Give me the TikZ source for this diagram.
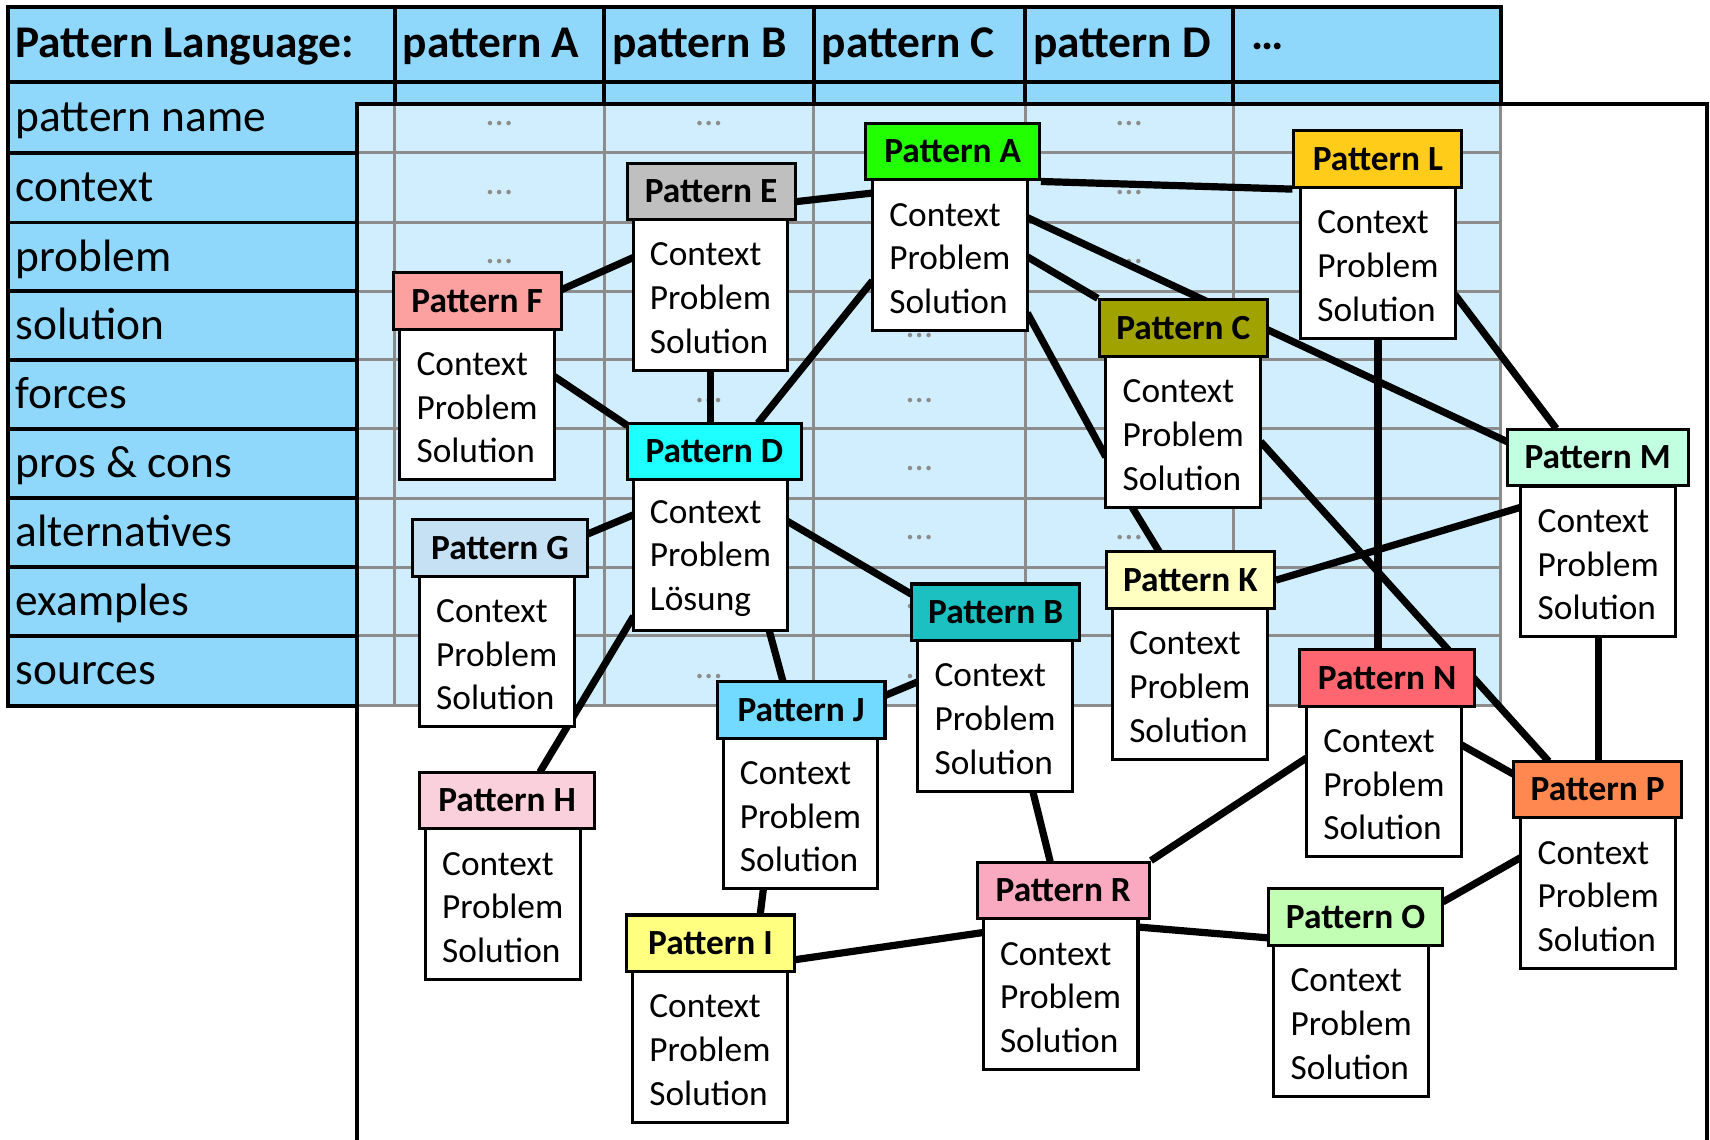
\documentclass[tikz,border=0pt]{standalone}
\usepackage{fontspec}
\setmainfont{Carlito}
\pgfdeclarelayer{bg}
\pgfdeclarelayer{links}
\pgfsetlayers{bg,links,main}
\newcommand{\pfont}{\fontsize{16.2pt}{20pt}\selectfont}
\newcommand{\tfont}{\fontsize{20.8pt}{25pt}\selectfont}
\newcommand{\cps}{Context\\Problem\\Solution}
\definecolor{hblue}{HTML}{8FD8FC}
\definecolor{gblue}{HTML}{D0EEFD}
\definecolor{gridgrey}{HTML}{8C8C8C}
\definecolor{cA}{HTML}{22FF00}
\definecolor{cB}{HTML}{1CC0C0}
\definecolor{cC}{HTML}{A0A200}
\definecolor{cD}{HTML}{1EFFFF}
\definecolor{cE}{HTML}{BFBFBF}
\definecolor{cF}{HTML}{FCA0A0}
\definecolor{cG}{HTML}{C6E0F4}
\definecolor{cH}{HTML}{FAD0DC}
\definecolor{cI}{HTML}{FFFF80}
\definecolor{cJ}{HTML}{72DAFF}
\definecolor{cK}{HTML}{FFFFC2}
\definecolor{cL}{HTML}{FFCC1A}
\definecolor{cM}{HTML}{C2FFE0}
\definecolor{cN}{HTML}{FF6670}
\definecolor{cO}{HTML}{C2FFB4}
\definecolor{cP}{HTML}{FF8850}
\definecolor{cR}{HTML}{F9A9C0}
\tikzset{
  hdr/.style={draw, line width=1.4pt, minimum height=26pt, inner sep=0pt, font=\pfont\bfseries},
  bodybox/.style={draw, fill=white, line width=1.4pt, minimum width=71pt, minimum height=69pt, inner sep=0pt},
  bodytext/.style={inner sep=0pt, align=left, font=\pfont},
  conn/.style={line width=3.3pt},
  tabl/.style={line width=1.8pt, black},
  gridl/.style={line width=1.4pt, gridgrey},
  tabtext/.style={inner sep=0pt, font=\tfont, anchor=base west},
  dotsty/.style={inner sep=0pt, text=gridgrey, font=\fontsize{17pt}{17pt}\selectfont}
}
\newcommand{\patbox}[7]{%
  \node[hdr, fill=#4, minimum width=#3] (#1h) at #2 {#5};
  \node[bodybox] (#1b) at #6 {};
  \node[bodytext] (#1t) at ([yshift=-1.5pt]#1b.center) {#7};
}
\begin{document}
\begin{tikzpicture}[x=0.5pt,y=-0.5pt]
\useasboundingbox (0,0) rectangle (1568,1045);

% ---------- table ----------
\begin{pgfonlayer}{bg}
\fill[hblue] (7,6) rectangle (1376,95);
\fill[hblue] (7,75) rectangle (362,647);
\fill[gblue] (327,95) rectangle (1376,647);
\foreach \y in {140,204,267,330,393,457,520,583,647}
  \draw[gridl] (327,\y) -- (1376,\y);
\foreach \x in {362,554,746,940,1131,1376}
  \draw[gridl] (\x,95) -- (\x,647);
\draw[tabl] (7,6) rectangle (1376,75);
\foreach \x in {362,554,746,940,1131,1376}
  \draw[tabl] (\x,6) -- (\x,95);
\draw[tabl] (7,75) -- (7,647) -- (327,647);
\foreach \y in {140,204,267,330,393,457,520,583}
  \draw[tabl] (7,\y) -- (327,\y);
\draw[tabl] (327,1050) -- (327,95) -- (1565,95) -- (1565,1050);

\node[tabtext, font=\tfont\bfseries] (t0) at (14,53) {Pattern Language:};
\node[tabtext, font=\tfont\bfseries] (tA) at (369,53) {pattern A};
\node[tabtext, font=\tfont\bfseries] (tB) at (561,53) {pattern B};
\node[tabtext, font=\tfont\bfseries] (tC) at (753,53) {pattern C};
\node[tabtext, font=\tfont\bfseries] (tD) at (947,53) {pattern D};
\node[inner sep=0pt, font=\tfont\bfseries] (tX) at (1162,43) {…};

\node[tabtext] (r1) at (14,120.5) {pattern name};
\node[tabtext] (r2) at (14,185) {context};
\node[tabtext] (r3) at (14,248.5) {problem};
\node[tabtext] (r4) at (14,311.5) {solution};
\node[tabtext] (r5) at (14,374.5) {forces};
\node[tabtext] (r6) at (14,438) {pros \& cons};
\node[tabtext] (r7) at (14,501.5) {alternatives};
\node[tabtext] (r8) at (14,564.5) {examples};
\node[tabtext] (r9) at (14,628) {sources};

\foreach \x/\y [count=\i] in {458/113,458/177,458/240,
    650/113,650/367,650/620,
    843/308,843/367,843/430,843/493,843/556,843/620,
    1035.5/113,1035.5/177,1035.5/240,1035.5/493}
  \node[dotsty] (d-\i) at (\x,\y) {…};
\end{pgfonlayer}

% ---------- pattern boxes ----------
\patbox{A}{(873.5,139)}{79.5pt}{cA}{Pattern A}{(871,234)}{\cps}
\patbox{E}{(652,175.5)}{77pt}{cE}{Pattern E}{(651.5,270.5)}{\cps}
\patbox{L}{(1263.5,146)}{77pt}{cL}{Pattern L}{(1263.5,241)}{\cps}
\patbox{F}{(437.5,276)}{77pt}{cF}{Pattern F}{(437.5,371)}{\cps}
\patbox{C}{(1085,301)}{77pt}{cC}{Pattern C}{(1085,396)}{\cps}
\patbox{D}{(655,414)}{80pt}{cD}{Pattern D}{(651.5,509)}{Context\\Problem\\Lösung}
\patbox{M}{(1465,419.5)}{83pt}{cM}{Pattern M}{(1465.5,515)}{\cps}
\patbox{G}{(458.5,502.5)}{80pt}{cG}{Pattern G}{(455.5,597.5)}{\cps}
\patbox{K}{(1091.5,532)}{77pt}{cK}{Pattern K}{(1091,627)}{\cps}
\patbox{B}{(913,561.5)}{77pt}{cB}{Pattern B}{(912.5,656.5)}{\cps}
\patbox{J}{(734.5,651)}{77pt}{cJ}{Pattern J}{(734,746)}{\cps}
\patbox{N}{(1272,621.5)}{80pt}{cN}{Pattern N}{(1269,716.5)}{\cps}
\patbox{H}{(465,734)}{80pt}{cH}{Pattern H}{(461,829)}{\cps}
\patbox{P}{(1465,724)}{77pt}{cP}{Pattern P}{(1465.5,819)}{\cps}
\patbox{R}{(975,816.5)}{79pt}{cR}{Pattern R}{(972.5,911.5)}{\cps}
\patbox{O}{(1243,841)}{80pt}{cO}{Pattern O}{(1239,936)}{\cps}
\patbox{I}{(651.5,865)}{77pt}{cI}{Pattern I}{(651,960)}{\cps}

% ---------- connectors ----------
\begin{pgfonlayer}{links}
\draw[conn] ([shift={(77,9.5)}]Eh.center) -- ([shift={(-71,-57)}]Ab.center);
\draw[conn] (Ah.south east) -- (Lh.south west);
\draw[conn] ([shift={(76.5,-10)}]Fh.center) -- ([shift={(-70.5,-34.5)}]Eb.center);
\draw[conn] ([shift={(70.5,-26)}]Fb.center) -- ([shift={(-80,-24)}]Dh.center);
\draw[conn] (Eb.south) -- (Eb.south |- Dh.north);
\draw[conn] ([shift={(-71,23.5)}]Ab.center) -- ([shift={(40,-26)}]Dh.center);
\draw[conn] ([shift={(71,-34.5)}]Ab.center) -- ([shift={(-83,-14.5)}]Mh.center);
\draw[conn] ([shift={(71,1.5)}]Ab.center) -- (Ch.north west);
\draw[conn] ([shift={(71,53)}]Ab.center) -- ([shift={(-71,23)}]Cb.center);
\draw[conn] ([shift={(-47,69)}]Cb.center) -- ([shift={(-28.5,-26)}]Kh.center);
\draw[conn] ([shift={(70.5,29)}]Lb.center) -- ([shift={(-38,-26.5)}]Mh.center);
\draw[conn] (Lb.south) -- (Lb.south |- Nh.north);
\draw[conn] ([shift={(71,9)}]Cb.center) -- ([shift={(-45,-26)}]Ph.center);
\draw[conn] (Kh.east) -- ([shift={(-70.5,-50)}]Mb.center);
\draw[conn] (Mb.south) -- (Mb.south |- Ph.north);
\draw[conn] ([shift={(70.5,-31)}]Db.center) -- ([shift={(-77,-16.5)}]Bh.center);
\draw[conn] ([shift={(79.5,-12.5)}]Gh.center) -- ([shift={(-70.5,-37)}]Db.center);
\draw[conn] ([shift={(-70.5,56)}]Db.center) -- ([shift={(30,-26)}]Hh.center);
\draw[conn] ([shift={(53.5,68)}]Db.center) -- ([shift={(-16.5,-26)}]Jh.center);
\draw[conn] ([shift={(76.5,-13)}]Jh.center) -- ([shift={(-70.5,-31.5)}]Bb.center);
\draw[conn] ([shift={(-34,69)}]Jb.center) -- ([shift={(45.5,-26)}]Ih.center);
\draw[conn] ([shift={(77.5,15)}]Ih.center) -- ([shift={(-70.5,-56.5)}]Rb.center);
\draw[conn] ([shift={(34.5,69)}]Bb.center) -- ([shift={(-12,-26.5)}]Rh.center);
\draw[conn] (Rh.north east) -- ([shift={(-71,-21.5)}]Nb.center);
\draw[conn] ([shift={(70.5,-61.5)}]Rb.center) -- ([shift={(-80,19)}]Oh.center);
\draw[conn] ([shift={(71,-33.5)}]Nb.center) -- ([shift={(-77,-14)}]Ph.center);
\draw[conn] ([shift={(80,-14)}]Oh.center) -- ([shift={(-70.5,-33)}]Pb.center);
\end{pgfonlayer}
\end{tikzpicture}
\end{document}
